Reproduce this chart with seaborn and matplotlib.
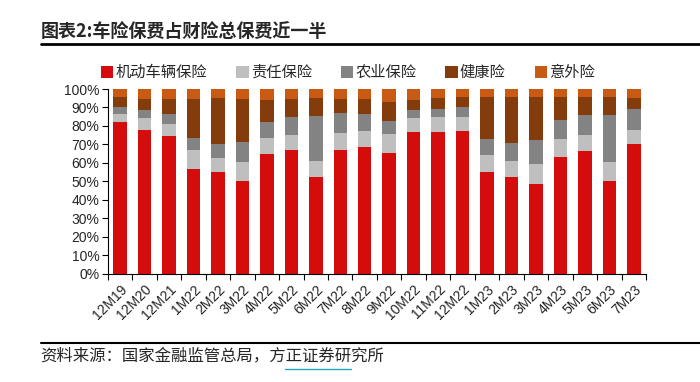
import numpy as np
import pandas as pd
import seaborn as sns
import matplotlib.pyplot as plt
from matplotlib.lines import Line2D
from matplotlib.patches import Patch

# Data (% of total P&C premium)
months = ['12M19', '12M20', '12M21', '1M22', '2M22', '3M22', '4M22', '5M22', '6M22', '7M22', '8M22',
          '9M22', '10M22', '11M22', '12M22', '1M23', '2M23', '3M23', '4M23', '5M23', '6M23', '7M23']
motor = [82.4, 77.9, 74.8, 56.7, 54.9, 50.4, 64.7, 67.1, 52.3, 67.1, 68.7,
         65.6, 76.6, 76.6, 77.5, 54.9, 52.3, 48.7, 63.3, 66.2, 50.5, 70.3]
liability = [4.1, 6.6, 6.3, 10.2, 8.0, 9.9, 8.7, 8.1, 9.0, 9.0, 8.6,
             10.1, 7.9, 8.3, 7.6, 9.5, 9.0, 11.0, 9.9, 9.0, 9.8, 7.6]
agriculture = [4.0, 4.2, 5.2, 6.8, 7.1, 11.3, 9.0, 9.9, 24.1, 10.8, 9.0,
               7.0, 4.3, 4.3, 5.0, 8.6, 9.4, 12.6, 10.1, 10.8, 25.5, 11.3]
health = [5.2, 5.7, 8.3, 20.9, 25.0, 23.0, 11.7, 9.5, 9.9, 7.7, 8.3,
          10.1, 5.3, 5.8, 5.8, 22.9, 25.2, 23.4, 12.2, 9.5, 10.1, 5.8]
accident = [4.3, 5.6, 5.4, 5.4, 5.0, 5.4, 5.9, 5.4, 4.7, 5.4, 5.4,
            7.2, 5.9, 5.0, 4.1, 4.1, 4.1, 4.3, 4.5, 4.5, 4.1, 5.0]

series_names = ['机动车辆保险', '责任保险', '农业保险', '健康险', '意外险']
colors = ['#D40C0C', '#BFBFBF', '#838383', '#843C0C', '#C95A14']

df = pd.DataFrame({'month': months, 'motor': motor, 'liability': liability,
                   'agriculture': agriculture, 'health': health, 'accident': accident})
cols = ['motor', 'liability', 'agriculture', 'health', 'accident']
cum = df[cols].cumsum(axis=1)

sns.set_style('white')
plt.rcParams['font.family'] = ['Liberation Sans', 'Noto Sans CJK SC', 'DejaVu Sans']

fig = plt.figure(figsize=(7, 3.82), dpi=100)
ax = fig.add_axes([0.154, 0.283, 0.769, 0.484])

# stacked bars: draw cumulative totals from top layer down
for c, col in reversed(list(zip(colors, cols))):
    sns.barplot(x=df['month'], y=cum[col], color=c, width=0.55, ax=ax,
                saturation=1, edgecolor='none', linewidth=0)

ax.set_xlim(-0.5, len(months) - 0.5)
ax.set_ylim(0, 100)
ax.set_yticks(np.arange(0, 101, 10))
ax.set_yticklabels([f'{v}%' for v in range(0, 101, 10)], fontsize=10)
ax.set_xlabel('')
ax.set_ylabel('')

for s in ['top', 'right']:
    ax.spines[s].set_visible(False)
for s in ['left', 'bottom']:
    ax.spines[s].set_color('black')
    ax.spines[s].set_linewidth(0.8)

ax.tick_params(axis='y', direction='out', length=4, width=0.8, color='black', pad=2, left=True)
ax.set_xticks(range(len(months)))
ax.set_xticklabels(months, rotation=45, ha='right', rotation_mode='anchor', fontsize=10)
ax.tick_params(axis='x', which='major', length=0, pad=6)
ax.set_xticks(np.arange(-0.5, len(months), 1), minor=True)
ax.tick_params(axis='x', which='minor', direction='out', length=4, width=0.8, color='black', bottom=True)

# legend
handles = [Patch(facecolor=c, edgecolor='none') for c in colors]
fig.legend(handles, series_names, loc='center left', bbox_to_anchor=(0.125, 0.81),
           ncol=5, frameon=False, handlelength=0.8, handleheight=0.8,
           handletextpad=0.15, columnspacing=1.9, prop={'family': ['Noto Sans CJK SC'], 'size': 11})

# title and footer
fig.text(0.058, 0.915, '图表2:车险保费占财险总保费近一半', fontsize=13, fontweight='bold',
         family=['Noto Sans CJK SC'], va='center', ha='left')
fig.add_artist(Line2D([0.058, 1.0], [0.884, 0.884], color='black', linewidth=2))
fig.add_artist(Line2D([0.058, 1.0], [0.102, 0.102], color='black', linewidth=1.5))
fig.text(0.058, 0.068, '资料来源：国家金融监管总局，方正证券研究所', fontsize=11.8,
         family=['Noto Sans CJK SC'], va='center', ha='left')
fig.add_artist(Line2D([0.407, 0.502], [0.033, 0.033], color='#1FA8B8', linewidth=1))

plt.savefig('out.png', dpi=100)
